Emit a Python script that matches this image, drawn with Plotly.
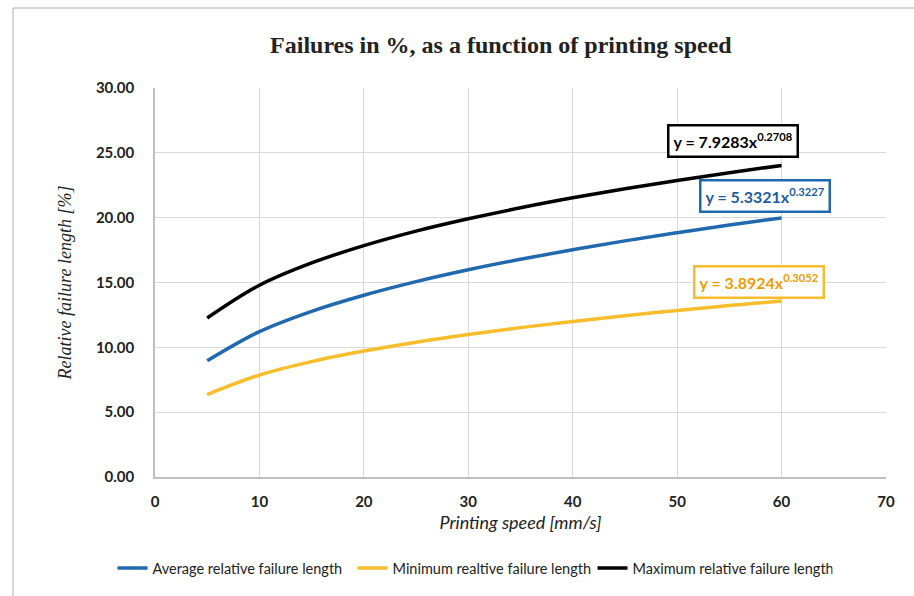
import plotly.graph_objects as go

speed = [5, 10, 15, 20, 25, 30, 35, 40, 45, 50, 55, 60]
avg_fail = [8.96, 11.21, 12.78, 14.02, 15.07, 15.98, 16.79, 17.53, 18.21, 18.84, 19.43, 19.98]
min_fail = [6.36, 7.86, 8.90, 9.71, 10.40, 10.99, 11.52, 12.00, 12.44, 12.84, 13.22, 13.58]
max_fail = [12.26, 14.79, 16.51, 17.84, 18.96, 19.91, 20.76, 21.53, 22.23, 22.87, 23.47, 24.03]

series_names = ["Average relative failure length", "Minimum realtive failure length", "Maximum relative failure length"]
series_colors = ["#2169ae", "#f8bd2c", "#000000"]
equations = ["y = 5.3321x<sup>0.3227</sup>", "y = 3.8924x<sup>0.3052</sup>", "y = 7.9283x<sup>0.2708</sup>"]

fig = go.Figure()
for name, ys, col in zip(series_names, [avg_fail, min_fail, max_fail], series_colors):
    fig.add_trace(go.Scatter(x=speed, y=ys, mode="lines", name=name,
                             line=dict(color=col, width=3.5, shape="spline")))

tick_font = dict(family="Lato, Open Sans, sans-serif", size=15, color="#222222", weight="bold")

fig.update_layout(
    width=914, height=596,
    margin=dict(l=155, r=28, t=88, b=119),
    paper_bgcolor="white", plot_bgcolor="white",
    title=dict(text="<b>Failures in %, as a function of printing speed</b>",
               x=0.548, xanchor="center", y=0.925, yanchor="middle",
               font=dict(family="Liberation Serif, Times New Roman, serif", size=24, color="#222222")),
    xaxis=dict(range=[0, 70], tickvals=[0, 10, 20, 30, 40, 50, 60, 70],
               showgrid=True, gridcolor="#d9d9d9", gridwidth=1,
               showline=True, linecolor="#bfbfbf", linewidth=1.5, zeroline=False,
               tickfont=tick_font, ticks="", ticklen=0, ticklabelstandoff=10,
               title=dict(text="<i>Printing speed [mm/s]</i>", standoff=8,
                          font=dict(family="Lato, Open Sans, sans-serif", size=18, color="#222222"))),
    yaxis=dict(range=[0, 30], tickvals=[0, 5, 10, 15, 20, 25, 30], tickformat=".2f",
               showgrid=True, gridcolor="#d9d9d9", gridwidth=1,
               showline=True, linecolor="#bfbfbf", linewidth=1.5, zeroline=False,
               tickfont=tick_font, ticks="", ticklen=0, ticklabelstandoff=16,
               title=dict(text="<i>Relative failure length [%]</i>", standoff=20,
                          font=dict(family="Liberation Serif, Times New Roman, serif", size=18, color="#222222"))),
    legend=dict(orientation="h", xref="container", yref="container",
                x=0.517, xanchor="center", y=0.047, yanchor="middle",
                font=dict(family="Lato, Open Sans, sans-serif", size=14.5, color="#222222"),
                itemwidth=30, entrywidth=195, entrywidthmode="pixels"),
    showlegend=True,
)

ann_pos = [(58.46, 21.67), (57.8, 15.04), (55.35, 25.95)]
text_colors = ["#1f5a9c", "#eb9c00", "#000000"]
for eq, (ax_x, ax_y), bc, tc in zip(equations, ann_pos, series_colors, text_colors):
    fig.add_annotation(x=ax_x, y=ax_y, xref="x", yref="y", text="<b>" + eq + "</b>",
                       showarrow=False, bordercolor=bc, borderwidth=2.5, borderpad=4,
                       bgcolor="white",
                       font=dict(family="Lato, Open Sans, sans-serif", size=16, color=tc))

# outer frame lines (top and left)
fig.add_shape(type="line", xref="x domain", yref="y domain",
              x0=(13-155)/731, x1=(914-155)/731, y0=(477-8)/389, y1=(477-8)/389,
              line=dict(color="#c8c8c8", width=1.5))
fig.add_shape(type="line", xref="x domain", yref="y domain",
              x0=(13-155)/731, x1=(13-155)/731, y0=(477-8)/389, y1=(477-596)/389,
              line=dict(color="#c8c8c8", width=1.5))

fig.write_html("out.html")
